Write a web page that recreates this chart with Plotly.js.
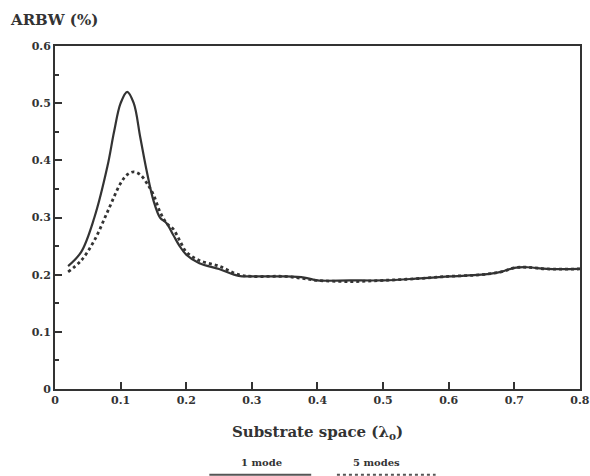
<!DOCTYPE html>
<html><head><meta charset="utf-8">
<script src="https://cdn.plot.ly/plotly-3.0.1.min.js"></script>
<style>body{margin:0;background:#fff}#c{width:590px;height:476px}</style>
</head><body><div id="c"></div>
<script>
const x1 = [0.02,0.04,0.06,0.08,0.09,0.10,0.11,0.12,0.13,0.14,0.15,0.16,0.17,0.18,0.19,0.20,0.22,0.25,0.28,0.30,0.35,0.38,0.40,0.45,0.50,0.55,0.60,0.65,0.68,0.70,0.72,0.75,0.80];
const y1 = [0.215,0.24,0.30,0.39,0.45,0.50,0.52,0.50,0.44,0.38,0.33,0.30,0.29,0.27,0.25,0.235,0.22,0.21,0.198,0.197,0.197,0.195,0.19,0.19,0.19,0.193,0.197,0.20,0.205,0.212,0.213,0.21,0.21];
const x5 = [0.02,0.04,0.06,0.08,0.10,0.11,0.12,0.13,0.14,0.15,0.16,0.17,0.18,0.19,0.20,0.22,0.25,0.28,0.30,0.35,0.38,0.40,0.45,0.50,0.55,0.60,0.65,0.68,0.70,0.72,0.75,0.80];
const y5 = [0.205,0.225,0.26,0.31,0.36,0.375,0.38,0.375,0.36,0.34,0.31,0.29,0.28,0.26,0.24,0.225,0.215,0.20,0.197,0.197,0.193,0.19,0.188,0.19,0.193,0.197,0.20,0.205,0.212,0.213,0.21,0.21];
const names = ['1 mode','5 modes'];
const xTicks = [0,0.1,0.2,0.3,0.4,0.5,0.6,0.7,0.8];
const yTicks = [0,0.1,0.2,0.3,0.4,0.5,0.6];
const fnt = 'DejaVu Serif';
const traces = [
 {x:x1,y:y1,mode:'lines',name:names[0],line:{color:'#333',width:2.2,shape:'spline'}},
 {x:x5,y:y5,mode:'lines',name:names[1],line:{color:'#333',width:2.8,dash:'dot',shape:'spline'}}
];
const layout = {
 width:590,height:476,margin:{l:55,r:10,t:46,b:87},
 paper_bgcolor:'#fff',plot_bgcolor:'#fff',showlegend:false,
 font:{family:fnt,color:'#333'},
 xaxis:{range:[0,0.8001],tickvals:xTicks,ticktext:xTicks.map(String),ticks:'inside',ticklen:7,tickwidth:1.5,tickcolor:'#333',
   ticklabeloverflow:'allow',
   showline:true,linewidth:2,linecolor:'#333',mirror:true,showgrid:false,zeroline:false,
   tickfont:{size:11,family:fnt,weight:'bold'},
   title:{text:'Substrate space (λ<sub>o</sub>)',font:{size:15,family:fnt,weight:'bold'},standoff:20}},
 yaxis:{range:[0,0.6001],tickvals:yTicks,ticktext:yTicks.map(String),ticks:'inside',ticklen:7,tickwidth:1.5,tickcolor:'#333',
   minor:{dtick:0.05,ticks:'inside',ticklen:4,tickcolor:'#333'},
   showline:true,linewidth:2,linecolor:'#333',mirror:true,showgrid:false,zeroline:false,
   tickfont:{size:11,family:fnt,weight:'bold'}},
 annotations:[
  {text:'<b>ARBW (%)</b>',xref:'paper',yref:'paper',x:-0.09,y:1.0,yshift:26,xanchor:'left',yanchor:'middle',showarrow:false,font:{size:15,family:fnt}},
  {text:'<b>'+names[0]+'</b>',xref:'paper',yref:'paper',x:0.393,y:-0.215,xanchor:'center',yanchor:'middle',showarrow:false,font:{size:10,family:fnt}},
  {text:'<b>'+names[1]+'</b>',xref:'paper',yref:'paper',x:0.613,y:-0.215,xanchor:'center',yanchor:'middle',showarrow:false,font:{size:10,family:fnt}}
 ],
 shapes:[
  {type:'line',xref:'paper',yref:'paper',x0:0.294,x1:0.488,y0:-0.25,y1:-0.25,line:{color:'#555',width:2}},
  {type:'line',xref:'paper',yref:'paper',x0:0.537,x1:0.725,y0:-0.25,y1:-0.25,line:{color:'#555',width:2,dash:'dot'}}
 ]
};
Plotly.newPlot('c',traces,layout,{displayModeBar:false});
</script></body></html>
